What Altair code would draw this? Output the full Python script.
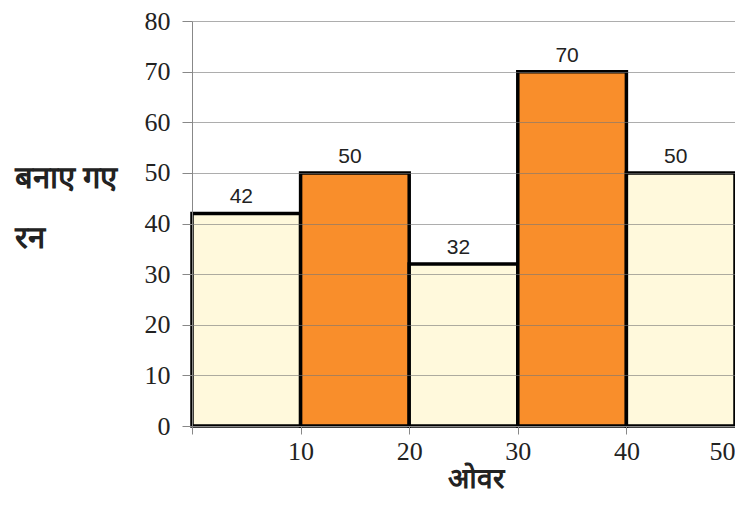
import altair as alt
import pandas as pd

bin_start = [0, 10, 20, 30, 40]
bin_end = [10, 20, 30, 40, 50]
runs = [42, 50, 32, 70, 50]
fill_colors = ["#FFF9DC", "#F98E2B", "#FFF9DC", "#F98E2B", "#FFF9DC"]
x_ticks = [0, 10, 20, 30, 40, 50]
y_ticks = [0, 10, 20, 30, 40, 50, 60, 70, 80]
x_title = "ओवर"
y_title = ["बनाए गए", "रन"]

df = pd.DataFrame({"start": bin_start, "end": bin_end, "runs": runs, "color": fill_colors})
df["mid"] = (df["start"] + df["end"]) / 2

base = alt.Chart(df)

bars = base.mark_rect(stroke="black", strokeWidth=3.5).encode(
    x=alt.X(
        "start:Q",
        scale=alt.Scale(domain=[0, 50], nice=False, zero=True),
        axis=alt.Axis(
            values=x_ticks,
            title=x_title,
            labelExpr="datum.value == 0 ? '' : datum.label",
            labelFont="Liberation Serif",
            labelFontSize=26,
            labelColor="#222",
            labelPadding=4,
            labelFlush=True,
            tickSize=8,
            tickColor="#888",
            domainColor="#888",
            grid=False,
            titleFontSize=28,
            titleFontWeight="bold",
            titleColor="#222",
            titlePadding=1,
            titleX=283,
            zindex=1,
        ),
    ),
    x2="end:Q",
    y=alt.Y(
        "runs:Q",
        scale=alt.Scale(domain=[0, 80], nice=False),
        axis=alt.Axis(
            values=y_ticks,
            title=y_title,
            titleAngle=0,
            titleAlign="left",
            titleBaseline="top",
            titleX=-178,
            titleY=142,
            titleLineHeight=60,
            titleFontSize=31,
            titleFontWeight="bold",
            titleColor="#222",
            labelFont="Liberation Serif",
            labelFontSize=26,
            labelColor="#222",
            labelPadding=12,
            tickSize=10,
            tickColor="#888",
            domainColor="#888",
            grid=True,
            gridColor="#777",
            gridOpacity=0.6,
            zindex=1,
        ),
    ),
    y2=alt.datum(0),
    fill=alt.Fill("color:N", scale=None),
)

labels = base.mark_text(
    baseline="bottom", dy=-6, dx=-5, fontSize=21, font="Liberation Sans", color="#222"
).encode(
    x="mid:Q",
    y="runs:Q",
    text="runs:Q",
)

chart = (
    alt.layer(bars, labels)
    .properties(
        width=543,
        height=405,
        autosize=alt.AutoSizeParams(type="none"),
        padding={"left": 184, "top": 13, "right": 0, "bottom": 72},
        background="white",
    )
    .configure_view(stroke=None)
)

chart.save("out.html", embed_options={"renderer": "svg", "actions": False})
